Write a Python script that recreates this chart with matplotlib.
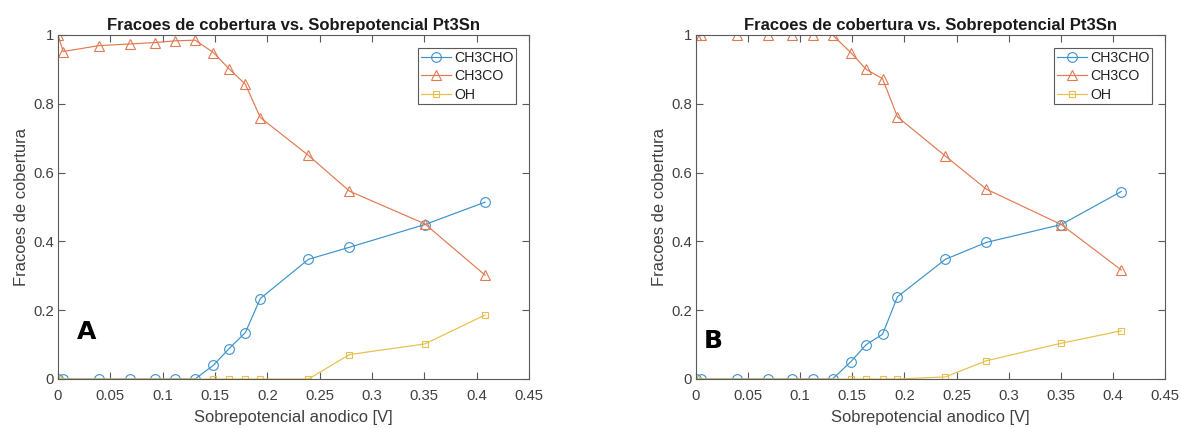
import matplotlib
matplotlib.use("Agg")
import matplotlib.pyplot as plt
from matplotlib.ticker import FuncFormatter, MultipleLocator

plt.rcParams['font.family'] = ['Liberation Sans', 'DejaVu Sans']

# Anodic overpotential [V]
eta = [0, 0.005, 0.039, 0.069, 0.0925, 0.112, 0.131, 0.1485, 0.1633,
       0.179, 0.1933, 0.2393, 0.2785, 0.3505, 0.408]
eta_oh = [0, 0.1485, 0.1633, 0.179, 0.1933, 0.2393, 0.2785, 0.3505, 0.408]

# Case A coverages
ch3cho_a = [0, 0, 0, 0, 0, 0, 0, 0.040, 0.088, 0.135, 0.234, 0.348, 0.383, 0.449, 0.514]
ch3co_a = [1.0, 0.952, 0.969, 0.974, 0.978, 0.983, 0.985, 0.949, 0.902, 0.857,
           0.760, 0.650, 0.546, 0.451, 0.302]
oh_a = [0, 0, 0, 0, 0, 0, 0.071, 0.102, 0.186]

# Case B coverages
ch3cho_b = [0, 0, 0, 0, 0, 0, 0, 0.050, 0.100, 0.130, 0.239, 0.348, 0.397, 0.449, 0.545]
ch3co_b = [1.0, 1.0, 1.0, 1.0, 1.0, 1.0, 1.0, 0.949, 0.900, 0.873,
           0.762, 0.648, 0.552, 0.449, 0.317]
oh_b = [0, 0, 0, 0, 0, 0.006, 0.053, 0.104, 0.140]

series_names = ["CH3CHO", "CH3CO", "OH"]
panel_tags = ["A", "B"]

title = "Fracoes de cobertura vs. Sobrepotencial Pt3Sn"
xlabel = "Sobrepotencial anodico [V]"
ylabel = "Fracoes de cobertura"

colors = ["#3d92cc", "#e07a52", "#e8bf48"]
markers = ["o", "^", "s"]
msizes = [7, 7.5, 5]
axis_col = "#5a5a5a"
text_col = "#404040"

fig = plt.figure(figsize=(11.81, 4.28), dpi=100)
W, H = 1181, 428
boxes = [(58, 529), (696, 1165)]
top, bottom = 35, 379
tag_pos = [(0.040, 0.116), (0.017, 0.090)]

data = [
    (ch3cho_a, ch3co_a, oh_a),
    (ch3cho_b, ch3co_b, oh_b),
]

fmt = FuncFormatter(lambda v, p: f"{v:g}")

for i, (x0, x1) in enumerate(boxes):
    ax = fig.add_axes([x0 / W, (H - bottom) / H, (x1 - x0) / W, (bottom - top) / H])
    ys = data[i]
    xs = [eta, eta, eta_oh]
    for k in range(3):
        ax.plot(xs[k], ys[k], color=colors[k], marker=markers[k],
                markersize=msizes[k], markerfacecolor="none",
                markeredgewidth=0.8, linewidth=0.85, label=series_names[k])
    ax.set_xlim(0, 0.45)
    ax.set_ylim(0, 1)
    ax.xaxis.set_major_locator(MultipleLocator(0.05))
    ax.yaxis.set_major_locator(MultipleLocator(0.2))
    ax.xaxis.set_major_formatter(fmt)
    ax.yaxis.set_major_formatter(fmt)
    ax.tick_params(direction="in", top=True, right=True, length=5, width=0.8,
                   color=axis_col, labelcolor=text_col, labelsize=10.7)
    ax.tick_params(axis="x", pad=7)
    ax.tick_params(axis="y", pad=3)
    for s in ax.spines.values():
        s.set_color(axis_col)
        s.set_linewidth(0.8)
    ax.set_title(title, fontsize=12, fontweight="bold", color="#1a1a1a", pad=3.6)
    ax.set_xlabel(xlabel, fontsize=11.9, color=text_col, labelpad=5)
    ax.set_ylabel(ylabel, fontsize=11.9, color=text_col, labelpad=3)
    leg = ax.legend(loc="upper right", fontsize=10.2, frameon=True, fancybox=False,
                    framealpha=1, edgecolor=axis_col, handlelength=2.1,
                    borderpad=0.2, labelspacing=0.32, handletextpad=0.25,
                    borderaxespad=0.9)
    leg.get_frame().set_linewidth(0.8)
    for t in leg.get_texts():
        t.set_color("#222222")
    tx, ty = tag_pos[i]
    ax.text(tx, ty, panel_tags[i], transform=ax.transAxes, fontsize=18,
            fontweight="bold", color="black", ha="left", va="baseline",
            family=["DejaVu Sans"])

fig.savefig("out.png", dpi=100)
